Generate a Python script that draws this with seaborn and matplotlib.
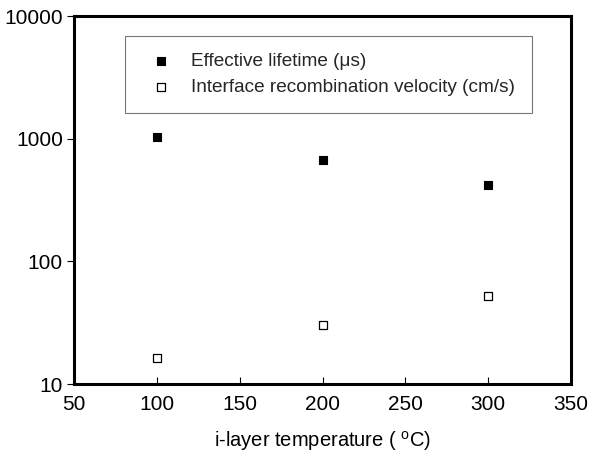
import matplotlib
matplotlib.use("Agg")
import matplotlib.pyplot as plt
import seaborn as sns
import pandas as pd

temps = [100, 200, 300]
lifetime = [1040, 670, 420]
velocity = [16.3, 30.3, 52.5]
series_names = ["Effective lifetime (\u03bcs)", "Interface recombination velocity (cm/s)"]
x_ticks = [50, 100, 150, 200, 250, 300, 350]
y_ticks = [10, 100, 1000, 10000]

sns.set_theme(style="white")
plt.rcParams['font.family'] = ['Liberation Sans', 'DejaVu Sans']
plt.rcParams['mathtext.fontset'] = 'custom'
plt.rcParams['mathtext.rm'] = 'Liberation Sans'

df = pd.DataFrame({
    "temp": temps * 2,
    "value": lifetime + velocity,
    "series": [series_names[0]] * 3 + [series_names[1]] * 3,
})

fig = plt.figure(figsize=(5.96, 4.62), dpi=100)
ax = fig.add_axes([74/596, 1-384/462, (571-74)/596, (384-16)/462])

sns.scatterplot(data=df[df.series == series_names[0]], x="temp", y="value", ax=ax,
                marker="s", s=34, color="black", edgecolor="black", linewidth=0.8,
                label=series_names[0])
sns.scatterplot(data=df[df.series == series_names[1]], x="temp", y="value", ax=ax,
                marker="s", s=34, facecolor="white", edgecolor="black", linewidth=0.9,
                label=series_names[1])

ax.set_yscale("log")
ax.set_xlim(50, 350)
ax.set_ylim(10, 10000)
ax.set_xticks(x_ticks)
ax.set_xticklabels([str(v) for v in x_ticks])
ax.set_yticks(y_ticks)
ax.set_yticklabels([str(v) for v in y_ticks])
ax.yaxis.set_minor_locator(matplotlib.ticker.NullLocator())

for s in ax.spines.values():
    s.set_linewidth(2.2)
    s.set_color("black")

ax.tick_params(axis="x", direction="in", length=5, width=0.8, labelsize=15, pad=8, colors="black", bottom=True)
ax.tick_params(axis="y", direction="out", length=5, width=0.8, labelsize=15, pad=3, colors="black", left=True)

ax.set_xlabel("i-layer temperature ( $^{\\mathregular{o}}$C)", fontsize=14.5, labelpad=11, color="black")
ax.set_ylabel("")

leg = ax.legend(loc="upper left", bbox_to_anchor=((125-74)/497, 1-(36-16)/368),
                frameon=True, fancybox=False, fontsize=13.7, handletextpad=0.55,
                borderpad=0.9, labelspacing=0.45, markerscale=0.9, borderaxespad=0)
leg.get_frame().set_edgecolor("#555555")
leg.get_frame().set_linewidth(0.8)

fig.savefig("out.png", dpi=100)
